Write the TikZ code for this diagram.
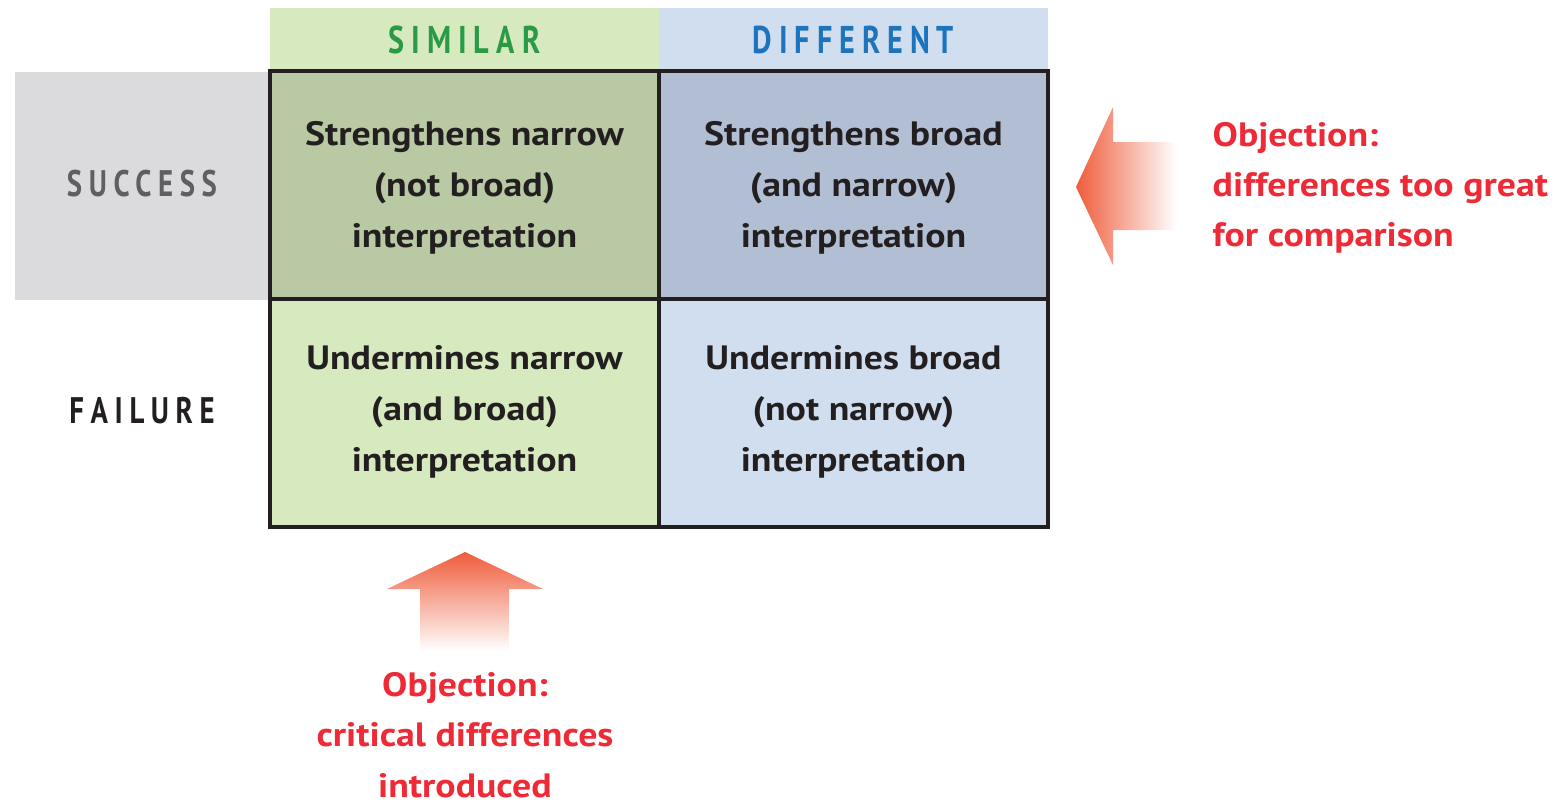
\documentclass[tikz,border=0pt]{standalone}
\usepackage{fontspec}
\setmainfont{PT Sans}[FakeStretch=1.12]
\newfontfamily\capsfont{PT Sans}[FakeStretch=0.78,LetterSpace=18]

\definecolor{gridline}{HTML}{231F20}
\definecolor{simlight}{HTML}{D7E9BF}
\definecolor{simdark}{HTML}{B8C9A3}
\definecolor{difflight}{HTML}{D1DEEF}
\definecolor{diffdark}{HTML}{B2BED3}
\definecolor{sidegray}{HTML}{DBDBDD}
\definecolor{simtext}{HTML}{2A9A47}
\definecolor{difftext}{HTML}{1D74BC}
\definecolor{succtext}{HTML}{5E5F62}
\definecolor{objred}{HTML}{EE2A36}
\definecolor{arrowred}{HTML}{EF5C3B}

\tikzset{
  cell/.style={draw=gridline, line width=1.15pt, minimum width=3.89cm,
    minimum height=2.28cm, inner sep=0pt},
  celltext/.style={inner sep=0pt, align=center,
    font=\fontsize{9.6}{14.5}\selectfont\bfseries, text=gridline},
  head/.style={minimum width=3.89cm, minimum height=0.63cm, inner sep=0pt,
    font=\capsfont\fontsize{11}{13}\selectfont\bfseries},
  side/.style={inner sep=0pt, font=\capsfont\fontsize{10.5}{13}\selectfont\bfseries},
  objection/.style={inner sep=0pt, text=objred,
    font=\fontsize{9.6}{14.3}\selectfont\bfseries},
}

\begin{document}
\begin{tikzpicture}[x=0.01cm,y=-0.01cm]
  \useasboundingbox (0,0) rectangle (1556,802);

  % column heads
  \node[head, fill=simlight, text=simtext] (similar) at (464.5,39.5) {SIMILAR};
  \node[head, fill=difflight, text=difftext] (different) at (853.5,39.5) {DIFFERENT};

  % row heads
  \node[fill=sidegray, minimum width=2.55cm, minimum height=2.28cm] (succbox) at (142.5,186) {};
  \node[side, text=succtext] (success) at (142,184) {SUCCESS};
  \node[side, text=gridline] (failure) at (142,411) {FAILURE};

  % the four outcomes
  \node[cell, fill=simdark] (sn) at (464.5,185) {};
  \node[cell, fill=diffdark] (sb) at (853.5,185) {};
  \node[cell, fill=simlight] (fn) at (464.5,413) {};
  \node[cell, fill=difflight] (fb) at (853.5,413) {};
  \node[celltext] at ([yshift=-0.9pt]sn.center) {Strengthens narrow\\(not broad)\\interpretation};
  \node[celltext] at ([yshift=-0.9pt]sb.center) {Strengthens broad\\(and narrow)\\interpretation};
  \node[celltext] at ([yshift=0.2pt]fn.center) {Undermines narrow\\(and broad)\\interpretation};
  \node[celltext] at ([yshift=0.2pt]fb.center) {Undermines broad\\(not narrow)\\interpretation};

  % objections with their fading arrows
  \shade[left color=arrowred, right color=white]
    (1076,187) -- (1113,107) -- (1113,142) -- (1176,142) -- (1176,230)
    -- (1113,230) -- (1113,265) -- cycle;
  \node[objection, anchor=west, align=left] (objright) at (1212,188)
    {Objection:\\differences too great\\for comparison};

  \shade[top color=arrowred, bottom color=white]
    (465,552) -- (543,589) -- (509,589) -- (509,651) -- (420,651)
    -- (420,589) -- (387,589) -- cycle;
  \node[objection, align=center] (objdown) at (465,735)
    {Objection:\\critical differences\\introduced};
\end{tikzpicture}
\end{document}
